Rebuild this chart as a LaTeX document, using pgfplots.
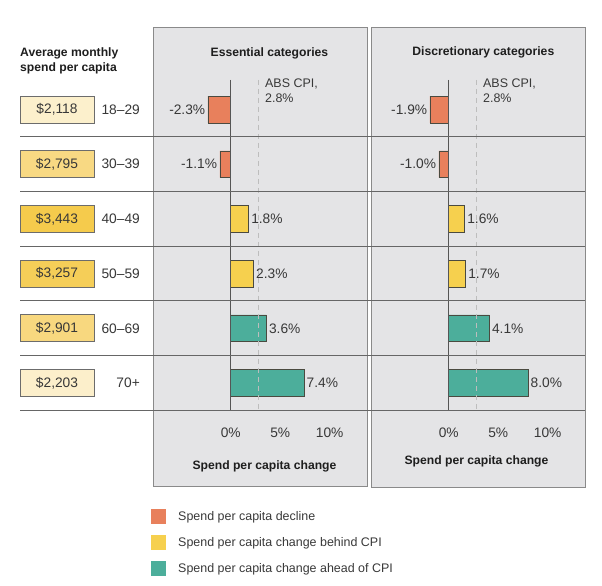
\documentclass[border=0pt]{standalone}
\usepackage{pgfplots}
\pgfplotsset{compat=1.18}
\usepackage{fontspec}
\setmainfont{Liberation Sans}
\definecolor{panel}{HTML}{E4E4E6}
\definecolor{panelborder}{HTML}{8A8A8A}
\definecolor{rowline}{HTML}{666666}
\definecolor{decl}{HTML}{E8805C}
\definecolor{behind}{HTML}{F6D04E}
\definecolor{ahead}{HTML}{4CAE9B}
\definecolor{txt}{HTML}{383838}
\definecolor{ttl}{HTML}{1E1E1E}
\definecolor{cpi}{HTML}{BDBDBD}
\definecolor{zero}{HTML}{555555}
\definecolor{barline}{HTML}{4A4A40}
\definecolor{boxline}{HTML}{6C6C6C}
\definecolor{boxA}{HTML}{FCF0CC}
\definecolor{boxB}{HTML}{F8D983}
\definecolor{boxC}{HTML}{F5CB4C}
\definecolor{boxD}{HTML}{F5CE58}
\definecolor{boxE}{HTML}{F8D87F}
\definecolor{boxF}{HTML}{FCEFCB}
\newcommand\ftxt{\fontsize{12.5}{15}\selectfont}
\newcommand\fnum{\fontsize{13.8}{16}\selectfont}
\newcommand\fbold{\fontsize{12.2}{14.5}\selectfont\bfseries}

\pgfplotsset{
  mybar/.style={bar width=0.49, bar shift=0pt, draw=barline, line width=0.5bp},
  panel/.style={
  scale only axis, width=214bp, height=328.2bp, anchor=south west,
  xmin=-7.85, xmax=13.77, ymin=-0.5, ymax=5.5, y dir=reverse,
  xbar,
  axis x line=bottom, axis y line=none, axis line style={draw=none},
  ytick=\empty, xtick={0,5,10}, xticklabels={0\%,5\%,10\%},
  major tick length=0pt,
  /pgf/number format/assume math mode=true,
  xticklabel style={font=\fnum, text=txt, anchor=base, yshift=-27.3bp},
  clip=false,
  point meta=x,
  nodes near coords={\pgfmathprintnumber[fixed,fixed zerofill,precision=1]{\pgfplotspointmeta}\%},
  every node near coord/.append style={font=\fnum, text=txt, inner sep=2.5bp},
  every axis title shift=0pt,
  title style={font=\fbold, text=ttl, anchor=base},
  xlabel style={font=\fbold, text=ttl, anchor=base},
  legend image code/.code={\fill[#1,draw=none] (0bp,-7.5bp) rectangle (15bp,7.5bp);},
}}

\begin{document}
\begin{tikzpicture}
\useasboundingbox (0,0) rectangle (602bp,586bp);
\fill[panel] (153bp,99bp) rectangle (367bp,558bp);
\draw[panelborder, line width=1bp] (153bp,99bp) rectangle (367bp,558bp);
\fill[panel] (371bp,98bp) rectangle (585bp,558bp);
\draw[panelborder, line width=1bp] (371bp,98bp) rectangle (585bp,558bp);

\begin{axis}[panel, at={(153bp,175.65bp)},
  title={Essential categories}, title style={at={(axis description cs:0.544,1.0797)}},
  xlabel={Spend per capita change}, xlabel style={at={(axis description cs:0.521,-0.1796)}},
  legend style={at={(axis description cs:-0.0093,-0.3006)}, anchor=north west, draw=none, fill=none,
    inner sep=0pt, row sep=11bp, font=\ftxt, text=txt, nodes={inner sep=0pt},
    /tikz/every odd column/.append style={column sep=12bp}},
  legend cell align=left]
\addplot[mybar, fill=decl, every node near coord/.append style={anchor=east}] coordinates {(-2.3,0) (-1.1,1)};
\addlegendentry{Spend per capita decline}
\addplot[mybar, fill=behind] coordinates {(1.8,2) (2.3,3)};
\addlegendentry{Spend per capita change behind CPI}
\addplot[mybar, fill=ahead] coordinates {(3.6,4) (7.4,5)};
\addlegendentry{Spend per capita change ahead of CPI}
\draw[zero, line width=1bp] (axis cs:0,-0.54) -- (axis cs:0,5.5);
\draw[cpi, line width=1bp, dash pattern=on 5bp off 4bp] (axis cs:2.8,-0.54) -- (axis cs:2.8,5.5);
\node[font=\ftxt, text=txt, anchor=base west, inner sep=0pt] at (axis cs:3.46,-0.4) {ABS CPI,};
\node[font=\ftxt, text=txt, anchor=base west, inner sep=0pt] at (axis cs:3.46,-0.132) {2.8\%};
\end{axis}

\begin{axis}[panel, at={(371bp,175.65bp)},
  title={Discretionary categories}, title style={at={(axis description cs:0.525,1.0797)}},
  xlabel={Spend per capita change}, xlabel style={at={(axis description cs:0.493,-0.1644)}}]
\addplot[mybar, fill=decl, every node near coord/.append style={anchor=east}] coordinates {(-1.9,0) (-1.0,1)};
\addplot[mybar, fill=behind] coordinates {(1.6,2) (1.7,3)};
\addplot[mybar, fill=ahead] coordinates {(4.1,4) (8.0,5)};
\draw[zero, line width=1bp] (axis cs:0,-0.54) -- (axis cs:0,5.5);
\draw[cpi, line width=1bp, dash pattern=on 5bp off 4bp] (axis cs:2.8,-0.54) -- (axis cs:2.8,5.5);
\node[font=\ftxt, text=txt, anchor=base west, inner sep=0pt] at (axis cs:3.46,-0.4) {ABS CPI,};
\node[font=\ftxt, text=txt, anchor=base west, inner sep=0pt] at (axis cs:3.46,-0.132) {2.8\%};
\end{axis}

\foreach \y in {449.2,394.5,339.8,285.1,230.4,175.65}
  \draw[rowline, line width=1.2bp] (20bp,\y bp) -- (585bp,\y bp);

\node[anchor=base west, font=\fbold, text=ttl, inner sep=0pt] at (20bp,529.5bp) {Average monthly};
\node[anchor=base west, font=\fbold, text=ttl, inner sep=0pt] at (20bp,514.5bp) {spend per capita};

\tikzset{vbox/.style={draw=boxline, line width=0.8bp, minimum width=74bp, minimum height=27bp, inner sep=0pt, font=\fnum, text=txt},
  age/.style={anchor=east, font=\fnum, text=txt, inner sep=0pt}}
\node[vbox, fill=boxA] at (57bp,476.5bp) {\$2,118};
\node[vbox, fill=boxB] at (57bp,421.8bp) {\$2,795};
\node[vbox, fill=boxC] at (57bp,367.1bp) {\$3,443};
\node[vbox, fill=boxD] at (57bp,312.4bp) {\$3,257};
\node[vbox, fill=boxE] at (57bp,257.7bp) {\$2,901};
\node[vbox, fill=boxF] at (57bp,203.0bp) {\$2,203};
\node[age] at (140bp,476.5bp) {18--29};
\node[age] at (140bp,421.8bp) {30--39};
\node[age] at (140bp,367.1bp) {40--49};
\node[age] at (140bp,312.4bp) {50--59};
\node[age] at (140bp,257.7bp) {60--69};
\node[age] at (140bp,203.0bp) {70+};
\end{tikzpicture}
\end{document}
